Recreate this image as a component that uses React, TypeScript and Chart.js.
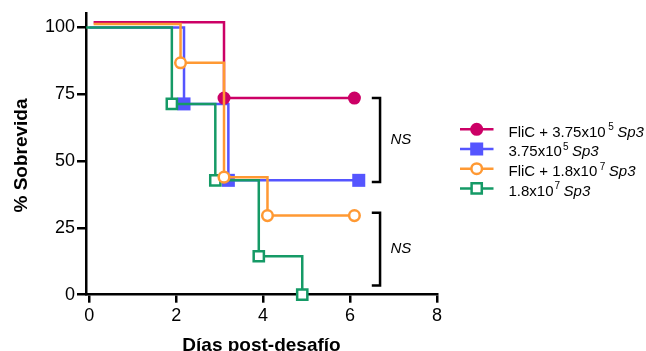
import React, { useEffect, useRef } from 'react';
import { Chart, registerables } from 'chart.js';

Chart.register(...registerables);

// ---- data ----
const xTicks = [0, 2, 4, 6, 8];
const yTicks = [0, 25, 50, 75, 100];

const legendNames = ['FliC + 3.75x10', '3.75x10', 'FliC + 1.8x10', '1.8x10'];
const legendExponents = ['5', '5', '7', '7'];
const legendSuffix = 'Sp3';

const flic375Days = [0.1, 3.1, 6.1];
const flic375Surv = [102, 73.6, 73.6];
const sp375Days = [0, 2.18, 3.2, 6.2];
const sp375Surv = [100, 71.4, 42.8, 42.8];
const flic18Days = [0.1, 2.1, 3.1, 4.1, 6.1];
const flic18Surv = [101.3, 86.8, 44, 29.6, 29.6];
const sp18Days = [-0.07, 1.9, 2.9, 3.9, 4.9];
const sp18Surv = [100, 71.4, 42.8, 14.4, 0];

const bracketTops = [73.6, 30.7];
const bracketBottoms = [42.2, 3.4];
const bracketLabel = 'NS';

const xTitle = 'Días post-desafío';
const yTitle = '% Sobrevida';

// ---- styles ----
const FONT = '"Liberation Sans", Arial, Helvetica, sans-serif';
const COLORS = ['#CC0066', '#5555FF', '#FF9933', '#159A66'];
const STYLES = [
  { shape: 'circle', r: 6.5, fill: true },
  { shape: 'rect', r: 9.2, fill: true },
  { shape: 'circle', r: 5.3, fill: false },
  { shape: 'rect', r: 7.2, fill: false },
];
const ORDERS = [1, 3, 0, 2];

const toPts = (xs: number[], ys: number[]) => xs.map((x, i) => ({ x, y: ys[i] }));
const seriesData = [
  toPts(flic375Days, flic375Surv),
  toPts(sp375Days, sp375Surv),
  toPts(flic18Days, flic18Surv),
  toPts(sp18Days, sp18Surv),
];

function drawMarker(ctx: CanvasRenderingContext2D, i: number, x: number, y: number) {
  const st = STYLES[i];
  ctx.save();
  ctx.beginPath();
  if (st.shape === 'circle') {
    ctx.arc(x, y, st.r, 0, Math.PI * 2);
  } else {
    const s = st.r * Math.SQRT1_2;
    ctx.rect(x - s, y - s, 2 * s, 2 * s);
  }
  if (st.fill) {
    ctx.fillStyle = COLORS[i];
    ctx.fill();
  } else {
    ctx.fillStyle = '#fff';
    ctx.fill();
    ctx.lineWidth = 2.5;
    ctx.strokeStyle = COLORS[i];
    ctx.stroke();
  }
  ctx.restore();
}

const annotPlugin = {
  id: 'annot',
  afterDraw(chart: any) {
    const ctx: CanvasRenderingContext2D = chart.ctx;
    const xs = chart.scales.x;
    const ys = chart.scales.y;
    const area = chart.chartArea;
    ctx.save();
    // axis titles
    ctx.fillStyle = '#000';
    ctx.font = `bold 19px ${FONT}`;
    ctx.textAlign = 'center';
    ctx.textBaseline = 'alphabetic';
    ctx.fillText(xTitle, (area.left + area.right) / 2, 350.5);
    ctx.save();
    ctx.translate(27, 155.5);
    ctx.rotate(-Math.PI / 2);
    ctx.fillText(yTitle, 0, 0);
    ctx.restore();

    // brackets
    const bx = xs.getPixelForValue(6.69);
    const bl = xs.getPixelForValue(6.5);
    const tx = xs.getPixelForValue(6.93);
    ctx.strokeStyle = '#000';
    ctx.lineWidth = 2.5;
    ctx.lineCap = 'butt';
    ctx.font = `italic 15px ${FONT}`;
    ctx.textAlign = 'left';
    ctx.textBaseline = 'middle';
    bracketTops.forEach((t, k) => {
      const yt = ys.getPixelForValue(t);
      const yb = ys.getPixelForValue(bracketBottoms[k]);
      ctx.beginPath();
      ctx.moveTo(bl, yt);
      ctx.lineTo(bx, yt);
      ctx.lineTo(bx, yb);
      ctx.lineTo(bl, yb);
      ctx.stroke();
      ctx.fillText(bracketLabel, tx, (yt + yb) / 2);
    });

    // legend
    const rowY0 = 129.3;
    const rowStep = 19.7;
    legendNames.forEach((name, i) => {
      const y = rowY0 + i * rowStep;
      ctx.strokeStyle = COLORS[i];
      ctx.lineWidth = 2.5;
      ctx.beginPath();
      ctx.moveTo(460, y);
      ctx.lineTo(493.5, y);
      ctx.stroke();
      drawMarker(ctx, i, 476.7, y);
      ctx.fillStyle = '#000';
      ctx.textBaseline = 'alphabetic';
      ctx.textAlign = 'left';
      ctx.font = `15px ${FONT}`;
      let x = 508.5;
      ctx.fillText(name, x, y + 7.3);
      x += ctx.measureText(name).width + (name.startsWith('FliC') ? 2.5 : 1);
      ctx.font = `10px ${FONT}`;
      ctx.fillText(legendExponents[i], x, y + 0.8);
      x += ctx.measureText(legendExponents[i]).width + 3.5;
      ctx.font = `italic 15px ${FONT}`;
      ctx.fillText(legendSuffix, x, y + 7.3);
    });
    ctx.restore();
  },
};

export default function App() {
  const ref = useRef<HTMLCanvasElement | null>(null);
  useEffect(() => {
    if (!ref.current) return;
    const chart = new Chart(ref.current, {
      type: 'line',
      data: {
        datasets: seriesData.map((d, i) => ({
          label: legendNames[i],
          data: d,
          stepped: 'before' as const,
          borderColor: COLORS[i],
          borderWidth: 2.5,
          fill: false,
          order: ORDERS[i],
          clip: false as any,
          pointStyle: STYLES[i].shape as any,
          pointRadius: d.map((_, k) => (k === 0 ? 0 : STYLES[i].r)),
          pointHoverRadius: d.map((_, k) => (k === 0 ? 0 : STYLES[i].r)),
          pointBackgroundColor: STYLES[i].fill ? COLORS[i] : '#fff',
          pointBorderColor: COLORS[i],
          pointBorderWidth: STYLES[i].fill ? 0 : 2.5,
        })),
      },
      options: {
        animation: false,
        responsive: false,
        events: [],
        layout: { padding: { left: 0, right: 209, top: 12, bottom: 0 } },
        plugins: { legend: { display: false }, tooltip: { enabled: false } },
        scales: {
          x: {
            type: 'linear',
            min: -0.075,
            max: 8,
            afterBuildTicks: (s: any) => {
              s.ticks = xTicks.map((v) => ({ value: v }));
            },
            afterFit: (s: any) => {
              s.height = 56.3;
            },
            ticks: {
              color: '#000',
              font: { family: FONT, size: 18 },
              padding: 3,
              maxRotation: 0,
              autoSkip: false,
            },
            grid: {
              display: true,
              drawOnChartArea: false,
              drawTicks: true,
              tickLength: 8,
              color: '#000',
              lineWidth: 2.5,
            },
            border: { display: true, color: '#000', width: 2.5 },
          },
          y: {
            type: 'linear',
            min: 0,
            max: 105.5,
            afterBuildTicks: (s: any) => {
              s.ticks = yTicks.map((v) => ({ value: v }));
            },
            afterFit: (s: any) => {
              s.width = 86;
            },
            ticks: {
              color: '#000',
              font: { family: FONT, size: 18 },
              padding: 2,
              autoSkip: false,
            },
            grid: {
              display: true,
              drawOnChartArea: false,
              drawTicks: true,
              tickLength: 9,
              color: '#000',
              lineWidth: 2.5,
            },
            border: { display: true, color: '#000', width: 2.5 },
          },
        },
      },
      plugins: [annotPlugin],
    });
    return () => chart.destroy();
  }, []);
  return (
    <div style={{ position: 'absolute', left: 0, top: 0, width: 646, height: 351, background: '#fff' }}>
      <canvas ref={ref} width={646} height={351} style={{ display: 'block' }} />
    </div>
  );
}
